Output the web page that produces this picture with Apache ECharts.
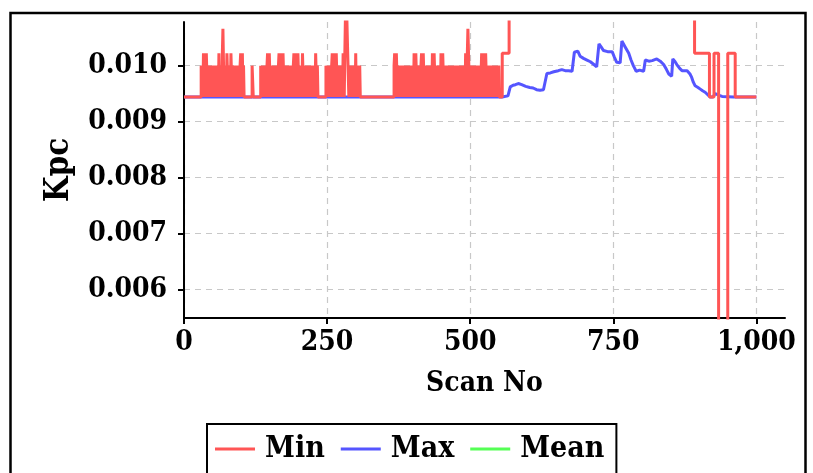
<!DOCTYPE html>
<html>
<head>
<meta charset="utf-8">
<script src="https://cdn.jsdelivr.net/npm/echarts@6/dist/echarts.min.js"></script>
<style>
html,body{margin:0;padding:0;background:#fff;}
#chart{width:813px;height:473px;}
</style>
</head>
<body>
<div id="chart"></div>
<script>
// ---- data ----
var xTicks = [0, 250, 500, 750, 1000];
var yTicks = [0.006, 0.007, 0.008, 0.009, 0.010];
var seriesNames = ['Min', 'Max', 'Mean'];

// Min: [scan, value] change points (value holds until the next scan listed)
var minSteps = [
  [0,0.00944],
  [30,0.0100],[31,0.00944],[32,0.0100],[33,0.00944],[34,0.01022],[36,0.00944],[37,0.0100],[38,0.00944],[39,0.01022],[41,0.00944],
  [42,0.0100],[43,0.00944],[44,0.0100],[45,0.00944],[46,0.0100],[47,0.00944],[48,0.0100],[49,0.00944],[50,0.0100],[51,0.00944],
  [52,0.0100],[53,0.00944],[54,0.0100],[55,0.00944],[56,0.0100],[57,0.00944],
  [59,0.0100],[60,0.00944],[61,0.01022],[62,0.00944],[63,0.0100],[64,0.00944],[65,0.0100],[66,0.00944],[67,0.01022],[68,0.01066],
  [70,0.00944],[71,0.0100],[72,0.00944],[73,0.0100],[74,0.00944],[75,0.01022],[77,0.00944],[78,0.0100],[79,0.00944],[80,0.0100],
  [81,0.00944],[82,0.01022],[84,0.00944],[85,0.0100],[86,0.00944],[87,0.0100],[88,0.00944],[89,0.0100],[90,0.00944],[92,0.0100],
  [93,0.00944],[94,0.0100],[95,0.00944],[96,0.0100],[97,0.00944],[98,0.0100],[99,0.01022],[101,0.00944],[102,0.01022],[103,0.00944],
  [104,0.0100],[105,0.00944],
  [119,0.0100],[121,0.00944],
  [134,0.0100],[135,0.00944],[137,0.0100],[138,0.00944],[139,0.0100],[140,0.00944],[141,0.0100],[142,0.00944],[143,0.0100],[144,0.00944],
  [145,0.0100],[146,0.01022],[148,0.00944],[149,0.01022],[151,0.00944],[152,0.0100],[153,0.00944],[154,0.0100],[155,0.00944],[156,0.0100],
  [157,0.00944],[159,0.0100],[160,0.00944],[161,0.0100],[162,0.00944],[163,0.0100],[164,0.00944],[165,0.0100],[166,0.01022],[168,0.00944],
  [169,0.0100],[170,0.01022],[172,0.00944],[173,0.01022],[175,0.00944],[176,0.0100],[177,0.00944],[178,0.0100],[179,0.00944],[180,0.0100],
  [181,0.00944],[182,0.0100],[183,0.00944],[185,0.0100],[186,0.00944],[187,0.0100],[188,0.00944],[189,0.0100],[190,0.00944],[191,0.0100],
  [192,0.01022],[194,0.00944],[195,0.01022],[197,0.00944],[198,0.0100],[199,0.01022],[201,0.00944],[202,0.0100],[203,0.00944],[205,0.0100],
  [206,0.00944],[207,0.01022],[209,0.00944],[210,0.0100],[211,0.00944],[212,0.0100],[213,0.00944],[214,0.0100],[215,0.00944],[217,0.0100],
  [218,0.00944],[219,0.0100],[220,0.00944],[221,0.0100],[222,0.00944],[224,0.0100],[225,0.00944],[226,0.0100],[227,0.00944],[228,0.0100],
  [229,0.00944],[230,0.01022],[232,0.00944],[233,0.0100],[234,0.00944],
  [248,0.0100],[249,0.00944],[250,0.0100],[251,0.00944],[252,0.0100],[253,0.00944],[254,0.0100],[255,0.00944],[256,0.0100],[257,0.00944],
  [258,0.0100],[259,0.01022],[261,0.00944],[262,0.01022],[264,0.00944],[265,0.0100],[266,0.01022],[268,0.00944],[269,0.0100],[270,0.00944],
  [272,0.0100],[273,0.00944],[274,0.0100],[275,0.00944],[276,0.0100],[277,0.00944],[278,0.01022],[280,0.00944],[281,0.01022],[283,0.0115],
  [286,0.01022],[288,0.00944],[289,0.0100],[290,0.00944],[291,0.0100],[292,0.00944],[293,0.0100],[294,0.00944],[296,0.0100],[297,0.00944],
  [298,0.0100],[299,0.00944],[300,0.01022],[301,0.00944],[302,0.0100],[303,0.00944],[305,0.0100],[306,0.00944],[307,0.0100],[308,0.00944],
  [367,0.0100],[368,0.01022],[370,0.00944],[371,0.01022],[373,0.00944],[374,0.0100],[375,0.00944],[376,0.0100],[377,0.00944],[378,0.0100],
  [379,0.00944],[380,0.0100],[381,0.00944],[382,0.0100],[383,0.00944],[385,0.0100],[386,0.00944],[387,0.0100],[388,0.00944],[389,0.0100],
  [390,0.00944],[391,0.0100],[392,0.00944],[393,0.0100],[394,0.00944],[396,0.0100],[397,0.00944],[398,0.0100],[399,0.00944],[400,0.0100],
  [401,0.00944],[402,0.01022],[404,0.00944],[405,0.01022],[407,0.00944],[408,0.0100],[409,0.00944],[410,0.0100],[411,0.00944],[412,0.0100],
  [413,0.00944],[414,0.0100],[415,0.01022],[417,0.00944],[418,0.01022],[420,0.00944],[421,0.0100],[422,0.00944],[423,0.0100],[424,0.00944],
  [426,0.0100],[427,0.00944],[428,0.0100],[429,0.00944],[430,0.0100],[431,0.00944],[432,0.0100],[433,0.00944],[434,0.01022],[436,0.00944],
  [437,0.01022],[439,0.00944],[440,0.0100],[441,0.00944],[442,0.0100],[443,0.00944],[445,0.0100],[446,0.00944],[447,0.0100],[448,0.00944],
  [449,0.01022],[451,0.00944],[452,0.01022],[454,0.00944],[455,0.0100],[456,0.00944],[457,0.0100],[458,0.00944],[459,0.0100],[460,0.00944],
  [462,0.0100],[463,0.00944],[464,0.0100],[465,0.00944],[466,0.0100],[467,0.00944],[468,0.0100],[469,0.00944],[470,0.0100],[471,0.00944],
  [473,0.0100],[474,0.00944],[475,0.0100],[476,0.00944],[477,0.0100],[478,0.00944],[479,0.0100],[480,0.00944],[481,0.0100],[482,0.00944],
  [484,0.0100],[485,0.00944],[486,0.0100],[487,0.00944],[488,0.0100],[489,0.00944],[490,0.0100],[491,0.00944],[492,0.01022],[494,0.00944],
  [495,0.01022],[496,0.01066],[499,0.00944],[500,0.0100],[501,0.00944],[502,0.0100],[503,0.00944],[504,0.0100],[505,0.00944],[507,0.0100],
  [508,0.00944],[509,0.0100],[510,0.00944],[511,0.0100],[512,0.00944],[513,0.0100],[514,0.00944],[515,0.0100],[516,0.00944],[517,0.0100],
  [518,0.00944],[520,0.01022],[522,0.00944],[523,0.01022],[525,0.00944],[526,0.0100],[527,0.01022],[529,0.00944],[530,0.0100],[531,0.00944],
  [532,0.0100],[533,0.00944],[535,0.0100],[536,0.00944],[537,0.0100],[538,0.00944],[539,0.0100],[540,0.00944],[541,0.0100],[542,0.00944],
  [543,0.0100],[544,0.00944],[546,0.0100],[547,0.00944],[548,0.0100],[549,0.00944],[550,0.0100],[551,0.00944],
  [556,0.01022],[568,0.0115],
  [892,0.01022],[918,0.00944],[926,0.01022],[934,0.0050],[950,0.01022],[963,0.00944],[1000,0.00944]
];

// Max: [scan, value]
var maxPoints = [
  [0,0.00944],[556,0.00944],[560,0.00945],[566,0.00946],[570,0.00962],[575,0.00965],[579,0.00966],[584,0.00968],[590,0.00966],
  [597,0.00963],[604,0.00961],[610,0.0096],[616,0.00957],[622,0.00956],[628,0.00957],[631,0.00957],[634,0.00986],[640,0.00987],
  [646,0.00989],[654,0.00991],[660,0.00993],[666,0.00991],[672,0.00991],[678,0.0099],[682,0.01024],[688,0.01026],[692,0.01017],
  [698,0.01013],[704,0.0101],[710,0.01007],[715,0.01003],[721,0.00998],[725,0.01039],[729,0.01033],[733,0.01027],[740,0.01025],
  [748,0.01025],[752,0.01015],[756,0.01006],[762,0.01005],[765,0.01044],[771,0.01033],[777,0.01022],[781,0.0101],[785,0.0100],
  [790,0.0099],[796,0.00992],[803,0.0099],[806,0.0101],[812,0.01008],[818,0.01009],[826,0.01012],[832,0.01008],[838,0.01002],
  [843,0.00993],[847,0.00985],[852,0.00981],[854,0.01012],[858,0.01007],[861,0.01002],[866,0.00995],[870,0.00991],[875,0.00991],
  [879,0.00991],[884,0.00985],[887,0.00979],[890,0.0097],[893,0.00964],[898,0.00961],[902,0.00958],[906,0.00955],[911,0.00952],
  [915,0.00948],[919,0.00944],[924,0.00944],[928,0.0095],[930,0.00952],[935,0.00947],[940,0.00945],[960,0.00944],[1000,0.00944]
];

// Mean: nothing visible in the plot
var meanPoints = [];

var FONT = '"DejaVu Serif Condensed", "DejaVu Serif", serif';
var chart = echarts.init(document.getElementById('chart'), null, {renderer: 'canvas'});
var gridLine = {show: true, lineStyle: {color: '#c8c8c8', width: 1.2, type: [6, 5]}};

chart.setOption({
  animation: false,
  backgroundColor: '#ffffff',
  textStyle: {fontFamily: FONT, fontWeight: 'bold', color: '#000'},
  graphic: [{
    type: 'rect', z: 100, silent: true,
    shape: {x: 10.5, y: 13, width: 795, height: 520},
    style: {fill: 'none', stroke: '#000', lineWidth: 2.5}
  }],
  grid: {left: 184, right: 28, top: 22, bottom: 155, containLabel: false},
  legend: {
    left: 207, top: 424,
    data: [
      {name: 'Min', icon: 'rect'},
      {name: 'Max', icon: 'rect'},
      {name: 'Mean', icon: 'rect'}
    ],
    borderColor: '#000', borderWidth: 2,
    padding: [10, 12, 30, 8],
    itemWidth: 40, itemHeight: 3, itemGap: 16,
    textStyle: {fontFamily: FONT, fontWeight: 'bold', fontSize: 30, color: '#000', padding: [0, 0, 0, 5]}
  },
  xAxis: {
    type: 'value', min: 0, max: 1050, interval: 250,
    name: 'Scan No', nameLocation: 'middle', nameGap: 52,
    nameTextStyle: {fontFamily: FONT, fontWeight: 'bold', fontSize: 28, color: '#000'},
    axisLine: {show: true, onZero: false, lineStyle: {color: '#000', width: 2}},
    axisTick: {show: true, length: 6, customValues: xTicks, lineStyle: {color: '#000', width: 2}},
    axisLabel: {
      fontFamily: FONT, fontWeight: 'bold', fontSize: 28, color: '#000', margin: 11,
      customValues: xTicks,
      formatter: function (v) { return Number(v).toLocaleString('en-US'); }
    },
    splitLine: gridLine
  },
  yAxis: {
    type: 'value', min: 0.00549, max: 0.01078,
    name: 'Kpc', nameLocation: 'middle', nameGap: 108, nameRotate: 90,
    nameTextStyle: {fontFamily: FONT, fontWeight: 'bold', fontSize: 33, color: '#000'},
    axisLine: {show: true, onZero: false, lineStyle: {color: '#000', width: 2}},
    axisTick: {show: true, length: 6, customValues: yTicks, lineStyle: {color: '#000', width: 2}},
    axisLabel: {
      fontFamily: FONT, fontWeight: 'bold', fontSize: 28, color: '#000', margin: 17,
      customValues: yTicks,
      formatter: function (v) { return Number(v).toFixed(3); }
    },
    splitLine: gridLine
  },
  series: [
    {
      name: 'Min', type: 'line', step: 'end', symbol: 'none', clip: true,
      data: minSteps,
      lineStyle: {color: '#ff5555', width: 3}, itemStyle: {color: '#ff5555'}, z: 3
    },
    {
      name: 'Max', type: 'line', symbol: 'none', clip: true,
      data: maxPoints,
      lineStyle: {color: '#5555ff', width: 3}, itemStyle: {color: '#5555ff'}, z: 2
    },
    {
      name: 'Mean', type: 'line', symbol: 'none', clip: true,
      data: meanPoints,
      lineStyle: {color: '#55ff55', width: 3}, itemStyle: {color: '#55ff55'}, z: 1
    }
  ]
});
</script>
</body>
</html>
